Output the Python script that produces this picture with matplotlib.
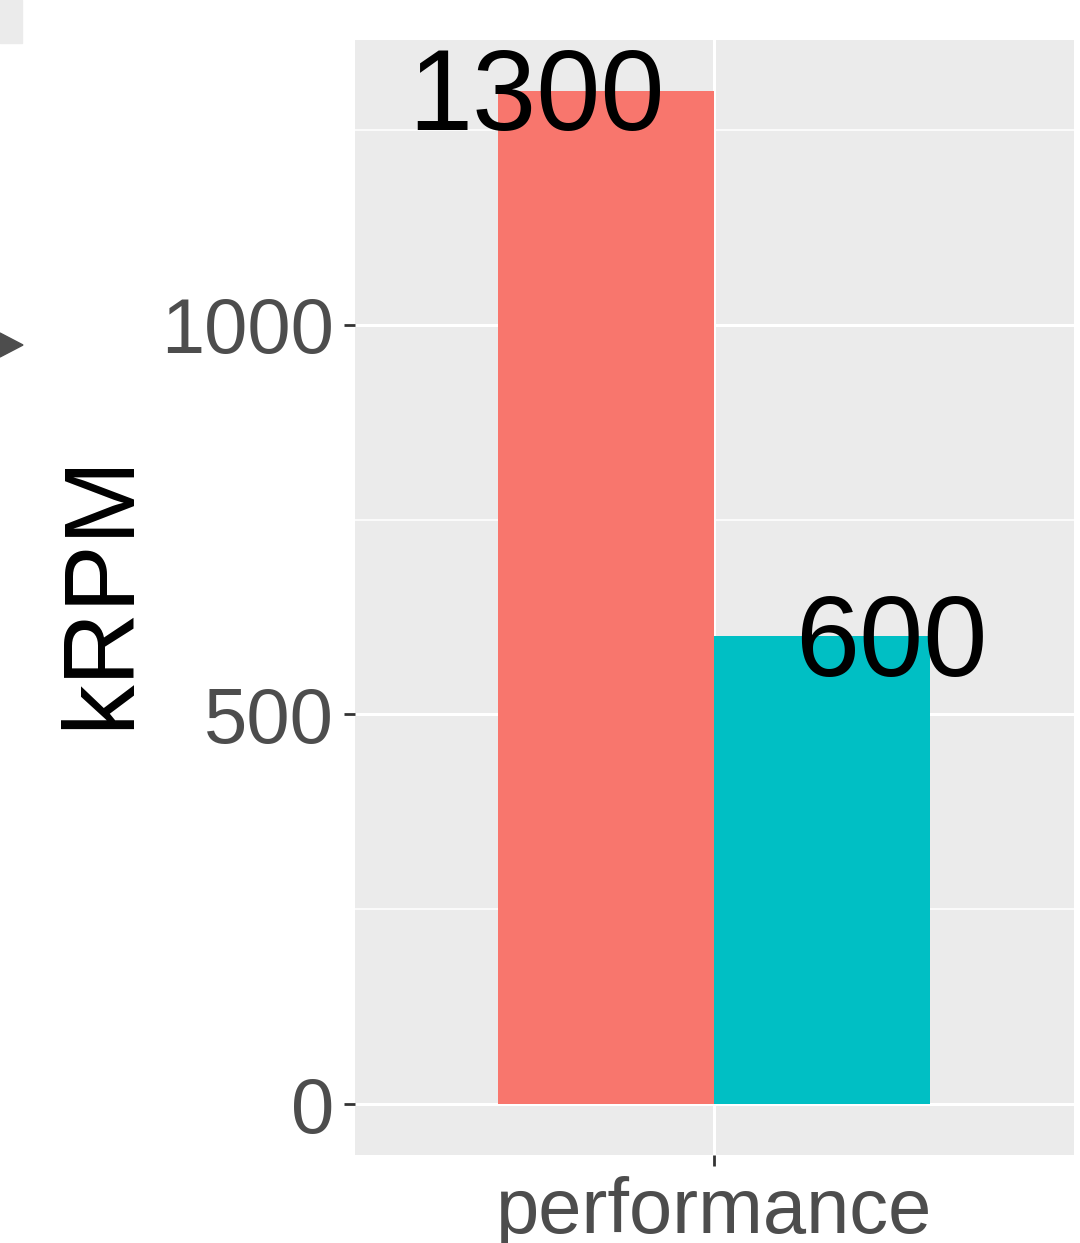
import matplotlib.pyplot as plt
from matplotlib.patches import Polygon, Rectangle

# data
category = "performance"
groups = ["a", "b"]
values = [1300, 600]
colors = ["#F8766D", "#00BFC4"]
yticks = [0, 500, 1000]
minor_ticks = [250, 750, 1250]

plt.rcParams['font.family'] = ['Liberation Sans', 'DejaVu Sans']

fig = plt.figure(figsize=(10.8, 12.43), dpi=100)
ax = fig.add_axes([355/1080, 1 - 1155/1243, (1074-355)/1080, (1155-40)/1243])
ax.set_facecolor("#EBEBEB")

# dodged bars around the single category at x=0
bw = 0.45
offsets = [-bw/2, bw/2]
label_offsets = [-0.37, 0.37]
for off, v, c in zip(offsets, values, colors):
    ax.bar(off, v, width=bw, color=c, zorder=2)
for off, v in zip(label_offsets, values):
    ax.annotate(str(v), xy=(off, v), xytext=(0, -7), textcoords="offset points",
                ha="center", va="center", fontsize=83, color="black", zorder=3)

ax.set_xlim(-0.748, 0.75)
ax.set_ylim(-65, 1365)
ax.set_xticks([0])
ax.set_xticklabels([category])
ax.set_yticks(yticks)
ax.set_yticks(minor_ticks, minor=True)

ax.grid(True, which="major", color="white", linewidth=2.2, zorder=1)
ax.grid(True, which="minor", axis="y", color="white", linewidth=1.1, zorder=1)
ax.set_axisbelow(True)
for s in ax.spines.values():
    s.set_visible(False)

ax.tick_params(axis="both", which="major", labelsize=56, labelcolor="#4D4D4D",
               color="#333333", width=2, length=8, pad=7)
ax.tick_params(axis="y", which="minor", length=0)

ax.set_ylabel("kRPM", fontsize=73, color="black", va="center")
ax.yaxis.set_label_coords(-0.352, 0.506)

# bits of neighbouring panel/legend cut off at the left edge
fig.patches.append(Rectangle((0, 1 - 43/1243), 22/1080, 43/1243,
                             transform=fig.transFigure, color="#EBEBEB"))
fig.patches.append(Polygon([(0, 1 - 333/1243), (23/1080, 1 - 345/1243), (0, 1 - 357/1243)],
                           closed=True, transform=fig.transFigure, color="#4D4D4D"))

fig.savefig("out.png", dpi=100)
